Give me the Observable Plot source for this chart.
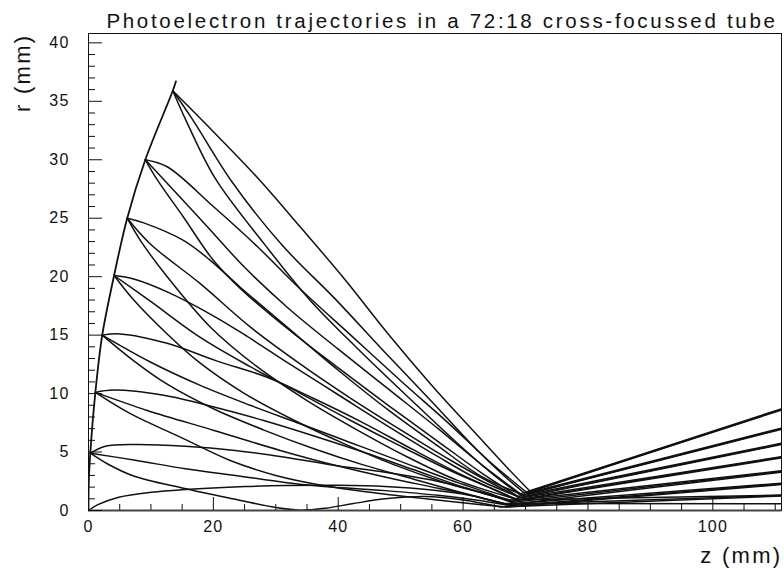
<!DOCTYPE html>
<html><head><meta charset="utf-8">
<script src="https://cdn.jsdelivr.net/npm/d3@7"></script>
<script src="https://cdn.jsdelivr.net/npm/@observablehq/plot@0.6"></script>
<style>body{margin:0;background:#fff}</style>
</head><body><div id="chart"></div>
<script>
const titleText = "Photoelectron trajectories in a 72:18 cross-focussed tube";
const xLabel = "z (mm)";
const yLabel = "r (mm)";
const xMajorTicks = [0, 20, 40, 60, 80, 100];
const xMinorTicks = [5, 10, 15, 25, 30, 35, 45, 50, 55, 65, 70, 75, 85, 90, 95, 105, 110];
const yMajorTicks = [0, 5, 10, 15, 20, 25, 30, 35, 40];
const yMinorTicks = [1,2,3,4,6,7,8,9,11,12,13,14,16,17,18,19,21,22,23,24,26,27,28,29,31,32,33,34,36,37,38,39];

// photocathode profile [z, r]
const cathode = [[0,0],[0.05,2.5],[0.3,5.0],[1.1,10.1],[2.2,15.0],[4.1,20.1],[6.2,25.0],[9.1,30.0],[13.5,35.9],[14.0,36.7]];

// trajectories [z, r]; the last point is where each leaves the plot at z = 111
const fan36Outer = [[13.5,35.9],[20,32.4],[27,28.5],[34,24.2],[41,19.8],[48,15.1],[55,10.7],[62,6.6],[67,3.7],[70.8,1.6],[111,8.65]];
const fan36Middle = [[13.5,35.9],[16.6,33.5],[23,28.1],[31,22.7],[39.5,18.1],[47,13.8],[55,9.3],[62,5.3],[66.5,3.0],[69.8,1.5],[111,8.6]];
const fan36Inner = [[13.5,35.9],[15.5,33.5],[20.3,28.4],[28.3,22.7],[35.3,18.1],[43,13.9],[51,9.8],[59,5.8],[65,3.0],[69.0,1.4],[111,8.7]];

const fan30Outer = [[9.1,30.0],[12.6,29.4],[20,26.0],[27,22.6],[34,18.9],[42,15.0],[50,11.1],[58,7.3],[64,4.3],[70.3,1.5],[111,7.05]];
const fan30Middle = [[9.1,30.0],[12.6,28.0],[19,24.3],[25,20.8],[32,17.3],[40,13.8],[48,10.4],[56,7.0],[63,3.9],[69.5,1.3],[111,7.0]];
const fan30Inner = [[9.1,30.0],[11,28.3],[15.2,25.1],[20,21.4],[24.3,19.0],[32,15.5],[40,12.2],[48,9.0],[56,5.9],[63,3.2],[68.8,1.2],[111,6.95]];

const fan25Outer = [[6.2,25.0],[8.85,24.6],[15.2,23.1],[19.5,21.4],[24.3,19.1],[32,15.6],[40,12.0],[48,8.6],[56,5.5],[63,2.9],[69.8,1.3],[111,5.75]];
const fan25Middle = [[6.2,25.0],[9.9,22.8],[17.9,19.4],[25.9,15.7],[34,12.5],[42,9.6],[50,6.9],[58,4.3],[64,2.5],[69,1.1],[111,5.7]];
const fan25Inner = [[6.2,25.0],[8.3,23.1],[12.6,20.0],[19.5,15.7],[27,12.3],[35,9.4],[43,6.9],[51,4.6],[59,2.6],[68.3,1.0],[111,5.65]];

const fan20Outer = [[4.1,20.1],[7.25,19.8],[12.6,18.7],[19.5,16.8],[24.8,15.1],[32,12.6],[40,9.9],[48,7.2],[56,4.6],[63,2.5],[69.3,1.1],[111,4.6]];
const fan20Middle = [[4.1,20.1],[9.9,17.9],[17.9,14.8],[25.9,12.3],[34,10.0],[42,7.7],[50,5.5],[58,3.4],[64,2.0],[68.5,0.9],[111,4.56]];
const fan20Inner = [[4.1,20.1],[7.25,18.0],[12.6,15.1],[17.9,12.6],[25,10.0],[33,7.7],[41,5.7],[49,3.9],[57,2.4],[63,1.5],[67.8,0.8],[111,4.5]];

const fan15Outer = [[2.2,15.0],[5.1,15.1],[12.6,14.3],[20.5,12.8],[28.6,11.4],[36,9.6],[44,7.5],[52,5.2],[60,3.0],[65,1.8],[68.8,0.9],[111,3.4]];
const fan15Middle = [[2.2,15.0],[9.9,12.7],[17.9,10.7],[25.9,9.0],[34,7.4],[42,5.8],[50,4.2],[58,2.6],[64,1.5],[68,0.7],[111,3.34]];
const fan15Inner = [[2.2,15.0],[7.25,12.8],[12.6,10.8],[20,8.7],[28,6.9],[36,5.3],[44,3.9],[52,2.7],[60,1.5],[67.3,0.5],[111,3.28]];

const fan10Outer = [[1.1,10.1],[4.05,10.3],[12.05,9.85],[20.1,8.85],[28.05,7.7],[36,6.4],[44,5.0],[52,3.5],[60,2.0],[65,1.2],[68.3,0.6],[111,2.34]];
const fan10Middle = [[1.1,10.1],[9.4,8.56],[20.1,6.85],[30.7,5.14],[40,3.8],[48,2.8],[56,1.9],[62,1.2],[67.5,0.4],[111,2.28]];
const fan10Inner = [[1.1,10.1],[6.7,8.28],[14.7,6.28],[22.7,4.28],[30,3.0],[38,2.1],[46,1.5],[54,1.0],[61,0.6],[67,0.3],[111,2.22]];

const fan5Upper = [[0.3,4.9],[2.7,5.5],[7.5,5.65],[15.5,5.5],[23.5,5.14],[31.5,4.56],[39.5,3.85],[47.5,3.28],[55,2.6],[62,1.7],[67.5,0.9],[111,1.32]];
const fan5Middle = [[0.3,4.9],[7.5,4.3],[15.5,3.57],[23.5,3.0],[31.5,2.4],[36.8,2.1],[47.5,1.7],[56,1.3],[62,0.9],[66.8,0.5],[111,1.28]];
const fan5Lower = [[0.3,4.9],[3,4.0],[7,3.0],[15.2,1.9],[24,0.9],[30,0.25],[34,0.03],[38,0.2],[42.2,0.57],[47.5,1.0],[54,1.2],[60,0.9],[66,0.3],[111,1.24]];

const fan0Line = [[0,0],[1.5,0.5],[4.85,1.14],[10.1,1.57],[15.5,1.8],[25.1,2.05],[31.5,2.14],[40,2.15],[47.5,2.05],[55,1.75],[61,1.3],[66.5,0.6],[111,0.57]];

const trajectories = {
  fan36Outer, fan36Middle, fan36Inner,
  fan30Outer, fan30Middle, fan30Inner,
  fan25Outer, fan25Middle, fan25Inner,
  fan20Outer, fan20Middle, fan20Inner,
  fan15Outer, fan15Middle, fan15Inner,
  fan10Outer, fan10Middle, fan10Inner,
  fan5Upper, fan5Middle, fan5Lower,
  fan0Line
};

const beforeCrossover = [];
const afterCrossover = [];
for (const [id, pts] of Object.entries(trajectories)) {
  pts.slice(0, -1).forEach(([z, r]) => beforeCrossover.push({id, z, r}));
  pts.slice(-2).forEach(([z, r]) => afterCrossover.push({id, z, r}));
}
const cathodeRows = cathode.map(([z, r]) => ({z, r}));

const ink = "#111";
const chart = Plot.plot({
  width: 784,
  height: 568,
  marginLeft: 88,
  marginRight: 3,
  marginTop: 33,
  marginBottom: 58,
  x: {domain: [0, 111]},
  y: {domain: [0, 40.8]},
  style: {background: "#fff", color: ink, fontFamily: "'Liberation Sans', Arial, sans-serif"},
  marks: [
    Plot.line(beforeCrossover, {x: "z", y: "r", z: "id", curve: "catmull-rom", stroke: ink, strokeWidth: 1.5, clip: true}),
    Plot.line(afterCrossover, {x: "z", y: "r", z: "id", stroke: ink, strokeWidth: 1.5, clip: true}),
    Plot.line(cathodeRows, {x: "z", y: "r", curve: "catmull-rom", stroke: ink, strokeWidth: 1.8, clip: true}),
    Plot.frame({stroke: ink, strokeWidth: 1}),
    Plot.ruleY([0], {stroke: "#444", strokeWidth: 2}),
    Plot.axisY(yMajorTicks, {tickSize: -14, fill: "none", label: null}),
    Plot.axisY(yMinorTicks, {tickSize: -7, fill: "none", label: null}),
    Plot.axisY(yMajorTicks, {tickSize: 0, tickPadding: 19, label: null, fontSize: 16}),
    Plot.axisX(xMajorTicks, {tickSize: -13, fill: "none", label: null}),
    Plot.axisX(xMinorTicks, {tickSize: -6, fill: "none", label: null}),
    Plot.axisX(xMajorTicks, {tickSize: 0, tickPadding: 10, label: null, fontSize: 16}),
    Plot.text([titleText], {text: d => d, frameAnchor: "top", dx: 7, dy: -5.5, lineAnchor: "bottom", fontSize: 20.5}),
    Plot.text([xLabel], {text: d => d, frameAnchor: "bottom-right", textAnchor: "end", lineAnchor: "bottom", dx: 1, dy: 52, fontSize: 22}),
    Plot.text([yLabel], {text: d => d, frameAnchor: "top-left", rotate: -90, textAnchor: "end", lineAnchor: "middle", dx: -66, dy: 0, fontSize: 22})
  ]
});
document.getElementById("chart").appendChild(chart);
const svg = d3.select(chart);
svg.selectAll("text").each(function () {
  const t = this.textContent;
  let ls = "1.2px";
  if (t === titleText) ls = "2.7px";
  else if (t === xLabel || t === yLabel) ls = "2.3px";
  this.setAttribute("letter-spacing", ls);
});
</script>
</body></html>
